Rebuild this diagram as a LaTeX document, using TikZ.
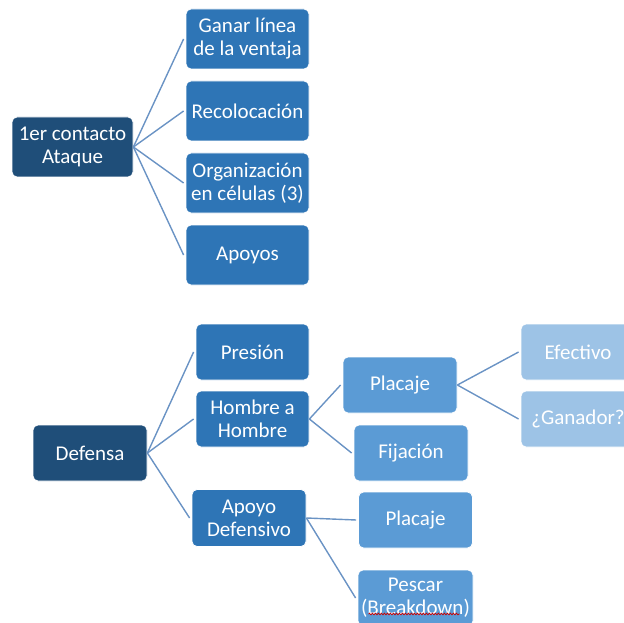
\documentclass[tikz,border=0pt]{standalone}
\usepackage{fontspec}
\setmainfont{Carlito}
\usetikzlibrary{positioning, decorations.pathmorphing}
\definecolor{rootblue}{HTML}{1F4E79}
\definecolor{midblue}{HTML}{2E75B6}
\definecolor{lightblue}{HTML}{5B9BD5}
\definecolor{paleblue}{HTML}{9DC3E6}
\definecolor{linkblue}{HTML}{6A93C4}

\begin{document}
\begin{tikzpicture}[
    x=1pt, y=-1pt,
    font=\fontsize{21}{23}\selectfont,
    every node/.style={inner sep=2pt},
    basebox/.style={
        draw=white, line width=0.8pt, rounded corners=5pt,
        minimum width=114pt, minimum height=56pt,
        text=white, align=center
    },
    rootbox/.style={basebox, fill=rootblue},
    lvltwo/.style={basebox, fill=midblue},
    lvlthree/.style={basebox, fill=lightblue},
    lvlfour/.style={basebox, fill=paleblue},
    link/.style={draw=linkblue, line width=1.4pt},
]

\useasboundingbox (0,0) rectangle (624,623);
\clip (0,0) rectangle (624,623);

% === Ataque tree ===
\node[rootbox, minimum width=121pt, minimum height=60pt] (ataque) at (72.5,147) {1er contacto\\Ataque};
\node[lvltwo, minimum width=123pt, minimum height=60pt] (ganar) at (247.5,39) {Ganar línea\\de la ventaja};
\node[lvltwo, minimum width=123pt, minimum height=60pt] (recol) at (247.5,111) {Recolocación};
\node[lvltwo, minimum width=123pt, minimum height=60pt] (organ) at (247.5,183) {Organización\\en células (3)};
\node[lvltwo, minimum width=123pt, minimum height=60pt] (apoyos) at (247.5,255) {Apoyos};

\foreach \kid in {ganar, recol, organ, apoyos}
    \draw[link] (ataque.east) -- ([xshift=-2pt]\kid.west);

% === Defensa tree ===
\node[rootbox] (defensa) at (90,453) {Defensa};
\node[lvltwo, minimum width=113pt] (presion) at (252.5,352) {Presión};
\node[lvltwo, minimum width=113pt] (hombre) at (252.5,419) {Hombre a\\Hombre};
\node[lvltwo, minimum height=57pt] (apoyodef) at (249,518) {Apoyo\\Defensivo};

\node[lvlthree] (placaje) at (400,385) {Placaje};
\node[lvlthree] (fijacion) at (411,453) {Fijación};
\node[lvlthree] (placajedos) at (415.5,520) {Placaje};
\node[lvlthree, minimum width=115pt] (pescar) at (415.5,598) {Pescar\\(Breakdown)};

\node[lvlfour] (efectivo) at (578,352) {Efectivo};
\node[lvlfour] (ganador) at (578,419) {¿Ganador?};

% spell-check squiggle under Breakdown
\draw[red!80!black, line width=0.7pt, decorate,
      decoration={snake, amplitude=0.9pt, segment length=3pt}]
    ([xshift=-47pt, yshift=-16pt]pescar.center) -- ([xshift=44pt, yshift=-16pt]pescar.center);

% === Arrows ===
\foreach \kid in {presion, hombre, apoyodef}
    \draw[link] (defensa.east) -- ([xshift=-2pt]\kid.west);
\foreach \kid in {placaje, fijacion}
    \draw[link] (hombre.east) -- ([xshift=-2pt]\kid.west);
\foreach \kid in {placajedos, pescar}
    \draw[link] (apoyodef.east) -- ([xshift=-2pt]\kid.west);
\foreach \kid in {efectivo, ganador}
    \draw[link] (placaje.east) -- ([xshift=-2pt]\kid.west);

\end{tikzpicture}
\end{document}
